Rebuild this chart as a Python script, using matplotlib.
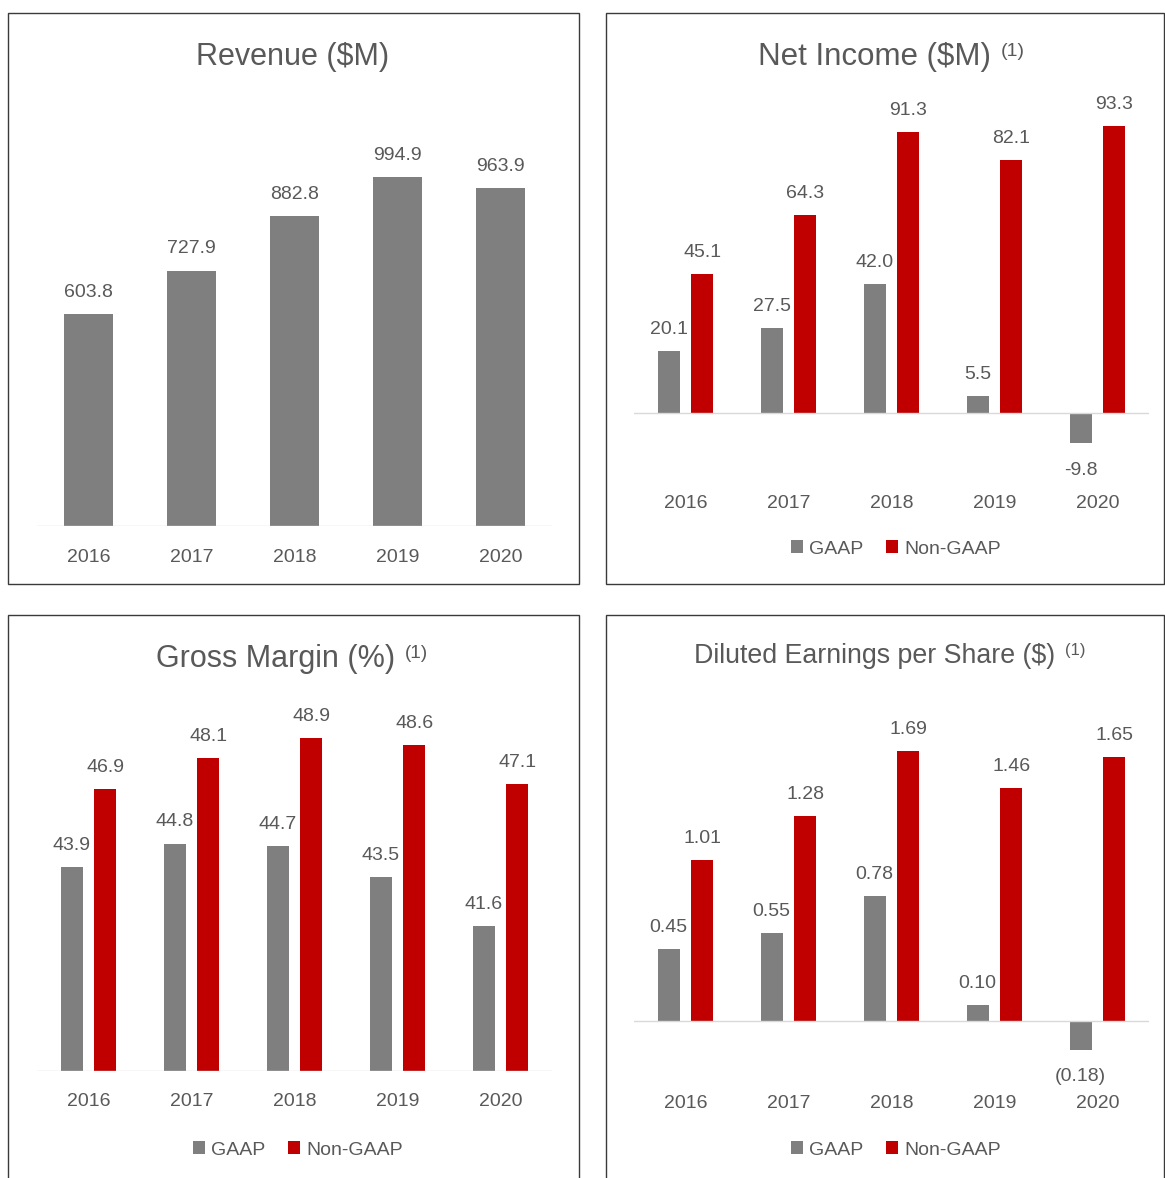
import matplotlib
matplotlib.use("Agg")
import matplotlib.pyplot as plt
from matplotlib.patches import Rectangle, Patch
from matplotlib import transforms

# ---------------- data ----------------
years = ["2016", "2017", "2018", "2019", "2020"]
revenue = [603.8, 727.9, 882.8, 994.9, 963.9]
ni_gaap = [20.1, 27.5, 42.0, 5.5, -9.8]
ni_nongaap = [45.1, 64.3, 91.3, 82.1, 93.3]
gm_gaap = [43.9, 44.8, 44.7, 43.5, 41.6]
gm_nongaap = [46.9, 48.1, 48.9, 48.6, 47.1]
eps_gaap = [0.45, 0.55, 0.78, 0.10, -0.18]
eps_nongaap = [1.01, 1.28, 1.69, 1.46, 1.65]
series_names = ["GAAP", "Non-GAAP"]

# ---------------- style ----------------
W, H = 1165, 1178
GRAY = "#7f7f7f"
RED = "#c00000"
TXT = "#595959"
BASE = "#d9d9d9"
FONT = "Liberation Sans"
plt.rcParams["font.family"] = [FONT, "DejaVu Sans"]

fig = plt.figure(figsize=(W / 100, H / 100), dpi=100)
fig.patch.set_facecolor("white")


def fx(px):
    return px / W


def fy(py):
    return 1 - py / H


def px_axes(x0, x1, ytop, ybot):
    ax = fig.add_axes([fx(x0), fy(ybot), (x1 - x0) / W, (ybot - ytop) / H])
    ax.set_xlim(-0.5, len(years) - 0.5)
    ax.set_xticks([])
    ax.set_yticks([])
    for s in ax.spines.values():
        s.set_visible(False)
    ax.patch.set_alpha(0)
    return ax


# panel frames
for (x0, y0, x1, y1) in [(8, 13, 579, 584), (606, 13, 1164, 584),
                         (8, 615, 579, 1180), (606, 615, 1164, 1180)]:
    fig.patches.append(Rectangle((fx(x0), fy(y1)), (x1 - x0) / W, (y1 - y0) / H,
                                 transform=fig.transFigure, fill=False,
                                 edgecolor="#3a3a3a", linewidth=1.0))

renderer = fig.canvas.get_renderer()


def title(cx, cy, main, sup=None, size=22):
    t = fig.text(fx(cx), fy(cy), main, ha="center", va="center", fontsize=size,
                 color=TXT)
    if sup:
        shift = 17
        t.set_position((fx(cx - shift), fy(cy)))
        bb = t.get_window_extent(renderer=renderer)
        fig.text(bb.x1 / W + 9 / W, fy(cy - 6), sup, ha="left", va="center",
                 fontsize=size * 0.62, color=TXT)


def year_labels(ax, ypx):
    tr = transforms.blended_transform_factory(ax.transData, fig.transFigure)
    for i, y in enumerate(years):
        ax.text(i, fy(ypx), y, transform=tr, ha="center", va="center",
                fontsize=14, color=TXT)


def label(ax, x, v, text, below=False):
    off = -19.5 if below else 15.5
    ax.annotate(text, (x, v), xytext=(0, off), textcoords="offset points",
                ha="center", va="center", fontsize=14, color=TXT,
                annotation_clip=False)


def legend(ax, cx, cy):
    handles = [Patch(facecolor=GRAY), Patch(facecolor=RED)]
    ax.legend(handles, series_names, loc="center",
              bbox_to_anchor=(fx(cx), fy(cy)), bbox_transform=fig.transFigure,
              ncol=2, frameon=False, handlelength=0.6, handleheight=0.6,
              handletextpad=0.3, columnspacing=1.2, fontsize=14,
              labelcolor=TXT)


x = list(range(len(years)))
off = 0.163
bw2 = 0.215

# ---------------- Revenue ----------------
ax1 = px_axes(37, 552, 100, 526)
ax1.set_ylim(0, 426 / 0.351)
ax1.bar(x, revenue, width=0.485, color=GRAY)
ax1.axhline(0, color=BASE, lw=1)
for i, v in enumerate(revenue):
    label(ax1, i, v, f"{v:.1f}")
year_labels(ax1, 557)
title(293, 57, "Revenue ($M)")

# ---------------- Net Income ----------------
s = 3.08
ax2 = px_axes(634, 1149, 100, 460)
ax2.set_ylim(-(460 - 413) / s, (413 - 100) / s)
ax2.bar([i - off for i in x], ni_gaap, width=bw2, color=GRAY)
ax2.bar([i + off for i in x], ni_nongaap, width=bw2, color=RED)
ax2.axhline(0, color=BASE, lw=1)
for i in x:
    g = ni_gaap[i]
    label(ax2, i - off, g, f"{g:.1f}", below=g < 0)
    label(ax2, i + off, ni_nongaap[i], f"{ni_nongaap[i]:.1f}")
year_labels(ax2, 503)
legend(ax2, 896, 549)
title(892, 57, "Net Income ($M)", "(1)", size=22.5)

# ---------------- Gross Margin ----------------
s = 25.85
ax3 = px_axes(37, 552, 690, 1071)
ax3.set_ylim(36, 36 + (1071 - 690) / s)
ax3.bar([i - off for i in x], gm_gaap, width=bw2, color=GRAY)
ax3.bar([i + off for i in x], gm_nongaap, width=bw2, color=RED)
ax3.axhline(36, color=BASE, lw=1)
for i in x:
    label(ax3, i - off, gm_gaap[i], f"{gm_gaap[i]:.1f}")
    label(ax3, i + off, gm_nongaap[i], f"{gm_nongaap[i]:.1f}")
year_labels(ax3, 1102)
legend(ax3, 298, 1150)
title(293, 659, "Gross Margin (%)", "(1)")

# ---------------- EPS ----------------
s = 159.8
ax4 = px_axes(634, 1149, 690, 1065)
ax4.set_ylim(-(1065 - 1021) / s, (1021 - 690) / s)
ax4.bar([i - off for i in x], eps_gaap, width=bw2, color=GRAY)
ax4.bar([i + off for i in x], eps_nongaap, width=bw2, color=RED)
ax4.axhline(0, color=BASE, lw=1)


def fmt_eps(v):
    return f"({abs(v):.2f})" if v < 0 else f"{v:.2f}"


for i in x:
    g = eps_gaap[i]
    label(ax4, i - off, g, fmt_eps(g), below=g < 0)
    label(ax4, i + off, eps_nongaap[i], fmt_eps(eps_nongaap[i]))
year_labels(ax4, 1104)
legend(ax4, 896, 1150)
title(892, 656, "Diluted Earnings per Share ($)", "(1)", size=19.3)

fig.savefig("out.png", dpi=100, facecolor="white")
